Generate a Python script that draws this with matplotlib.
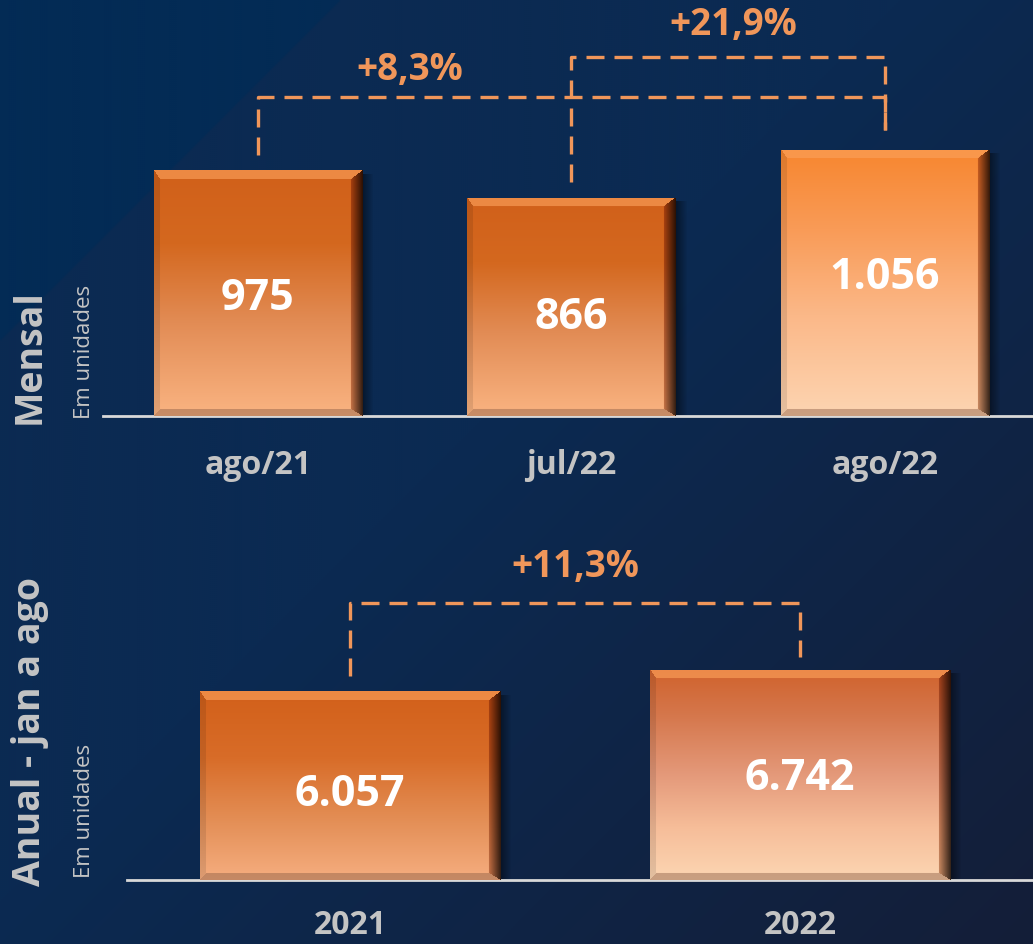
import numpy as np
import matplotlib
matplotlib.use("Agg")
import matplotlib.pyplot as plt
from matplotlib.colors import to_rgb

# --- data -------------------------------------------------------------
mensal_labels = ["ago/21", "jul/22", "ago/22"]
mensal_values = [975, 866, 1056]
mensal_text = ["975", "866", "1.056"]
mensal_var = ["+8,3%", "+21,9%"]
mensal_var_pairs = [(0, 2), (1, 2)]

anual_labels = ["2021", "2022"]
anual_values = [6057, 6742]
anual_text = ["6.057", "6.742"]
anual_var = ["+11,3%"]
anual_var_pairs = [(0, 1)]

# --- style ------------------------------------------------------------
W, H = 1033, 944
FONT = "Open Sans"
ORANGE_TXT = "#f0965a"
GREY = "#c4c4c4"

dark_stops = [(0.0, "#d1601a"), (0.3, "#d4681f"), (0.62, "#e28c55"), (1.0, "#fab482")]
light_stops = [(0.0, "#f7862f"), (0.3, "#f99b57"), (0.62, "#fbb888"), (1.0, "#fdd5b2")]
salmon_stops = [(0.0, "#d0622c"), (0.22, "#d5774c"), (0.5, "#e4997a"), (0.75, "#f6bd99"), (1.0, "#fcd6b3")]
mensal_stops = [dark_stops, dark_stops, light_stops]
anual_stops = [[(0.0, "#d2601a"), (0.35, "#d86c28"), (0.7, "#e49058"), (1.0, "#f6ae80")], salmon_stops]

fig = plt.figure(figsize=(W / 100, H / 100), dpi=100)


def px_axes(left, top, right, bottom):
    return fig.add_axes([left / W, 1 - bottom / H, (right - left) / W, (bottom - top) / H])


# background
bg = fig.add_axes([0, 0, 1, 1], zorder=-10)
yy, xx = np.mgrid[0:H:2, 0:W:2].astype(float)
t = np.clip(((xx + yy) - 900) / 1077, 0, 1)[..., None]
c1 = np.array(to_rgb("#0b2a52"))
c2 = np.array(to_rgb("#141e38"))
img = c1 * (1 - t) + c2 * t
tri = (xx + yy) < 340
img[tri] = to_rgb("#032b55")
bg.imshow(img, extent=(0, W, H, 0), aspect="auto", interpolation="bilinear")
bg.set_xlim(0, W)
bg.set_ylim(H, 0)
bg.axis("off")


def bar_image(wpx, hpx, stops):
    ny, nx = max(int(round(hpx)), 2), max(int(round(wpx)), 2)
    yy, xx = np.mgrid[0:ny, 0:nx] + 0.5
    tt = yy / ny
    pos = [s[0] for s in stops]
    cols = np.array([to_rgb(s[1]) for s in stops])
    base = np.stack([np.interp(tt, pos, cols[:, k]) for k in range(3)], -1)
    dt, db = yy / 9.0, (ny - yy) / 7.0
    dl, dr = xx / 6.0, (nx - xx) / 12.0
    d = np.stack([dt, dr, dl, db])
    face = np.argmin(d, axis=0)
    inside = d.min(axis=0) < 1
    out = base.copy()
    top = base * 0.35 + np.array(to_rgb("#fba05a")) * 0.65
    f = np.clip(dr, 0, 1)[..., None]
    right = base * (0.2 + 0.6 * f) * np.array([1.0, 0.82, 0.7])
    left = base * 0.9
    bottom = base * 0.55 + np.array(to_rgb("#8a5c44")) * 0.45
    for k, c in enumerate([top, right, left, bottom]):
        m = inside & (face == k)
        out[m] = c[m]
    return out


def draw_panel(ax, values, texts, labels, stops, ymax, xlim, width, label_frac, cat_off=50):
    ax.set_xlim(*xlim)
    ax.set_ylim(0, ymax)
    ax.patch.set_alpha(0)
    for s in ["top", "left", "right"]:
        ax.spines[s].set_visible(False)
    ax.spines["bottom"].set_color("#d9d9d9")
    ax.spines["bottom"].set_linewidth(2)
    ax.set_xticks([])
    ax.set_yticks([])

    x = np.arange(len(values))
    bars = ax.bar(x, values, width, color=[s[0][1] for s in stops], zorder=2)
    # pixels per data unit
    bb = ax.get_window_extent()
    ppx = bb.width / (xlim[1] - xlim[0])
    ppy = bb.height / ymax
    for i, patch in enumerate(bars):
        x0, w, h = patch.get_x(), patch.get_width(), patch.get_height()
        im = ax.imshow(bar_image(w * ppx, h * ppy, stops[i]), extent=(x0, x0 + w, 0, h),
                       aspect="auto", zorder=3, interpolation="bilinear")
        im.set_clip_path(patch)
        # soft shadow on the right
        sh = np.zeros((2, 12, 4))
        sh[..., 3] = np.linspace(0.45, 0, 12)[None, :]
        ax.imshow(sh, extent=(x0 + w, x0 + w + 12 / ppx, 0, h - 4 / ppy),
                  aspect="auto", zorder=1, interpolation="bilinear")
        ax.text(i, h * label_frac[i], texts[i], ha="center", va="center", color="white",
                fontsize=31, fontweight="bold", family=FONT, zorder=5)
        ax.annotate(labels[i], xy=(i, 0), xytext=(0, -cat_off * 0.72), textcoords="offset points",
                    ha="center", va="center", color=GREY, fontsize=23, fontweight="bold",
                    family=FONT, annotation_clip=False)
    ax.set_xlim(*xlim)
    ax.set_ylim(0, ymax)
    return ppy


def bracket(ax, ppy, values, i, j, level_px, gaps_px, text, tx, ty_px):
    yl = values[i] + gaps_px[0] / ppy
    yr = values[j] + gaps_px[1] / ppy
    top = level_px / ppy
    kw = dict(color=ORANGE_TXT, lw=2.4, ls=(0, (5.4, 3)), zorder=4, clip_on=False)
    ax.plot([i, i, j, j], [yl, top, top, yr], **kw)
    ax.text(tx, top + ty_px / ppy, text, ha="center", va="center", color=ORANGE_TXT,
            fontsize=26.5, fontweight="bold", family=FONT, clip_on=False)


# Mensal panel: baseline at y=416 px
ax1 = px_axes(103, 0, W, 416)
ppy1 = draw_panel(ax1, mensal_values, mensal_text, mensal_labels, mensal_stops, 1651,
                  (-0.494, 2.472), 0.664, [0.48, 0.45, 0.52])
bracket(ax1, ppy1, mensal_values, *mensal_var_pairs[0], 416 - 97, (15, 20), mensal_var[0], 0.485, 27)
bracket(ax1, ppy1, mensal_values, *mensal_var_pairs[1], 416 - 57, (16, 20), mensal_var[1], 1.515, 32)

# Anual panel: baseline at y=880 px
ax2 = px_axes(127, 540, W, 880)
ppy2 = draw_panel(ax2, anual_values, anual_text, anual_labels, anual_stops, 10900,
                  (-0.4956, 1.518), 0.667, [0.45, 0.485], cat_off=45)
bracket(ax2, ppy2, anual_values, *anual_var_pairs[0], 880 - 603, (15, 13), anual_var[0], 0.5, 36)

# side titles
fig.text(30 / W, 1 - 357 / H, "Mensal", rotation=90, ha="center", va="center", color=GREY,
         fontsize=27, fontweight="bold", family=FONT)
fig.text(85 / W, 1 - 352 / H, "Em unidades", rotation=90, ha="center", va="center", color=GREY,
         fontsize=16, family=FONT)
fig.text(30 / W, 1 - 732 / H, "Anual - jan a ago", rotation=90, ha="center", va="center",
         color=GREY, fontsize=27, fontweight="bold", family=FONT)
fig.text(85 / W, 1 - 811 / H, "Em unidades", rotation=90, ha="center", va="center", color=GREY,
         fontsize=16, family=FONT)

fig.savefig("out.png", dpi=100)
